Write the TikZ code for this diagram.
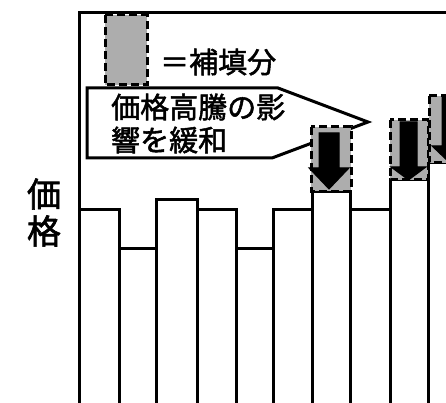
\documentclass[tikz,border=0pt]{standalone}
\usepackage{fontspec}
\newfontfamily\jp{Noto Sans CJK JP}[FakeBold=1.8]
\begin{document}
\begin{tikzpicture}[x=1pt,y=-1pt,
  heavy/.style={line width=3pt,line join=miter},
  bar/.style={heavy,fill=white},
  fillbox/.style={line width=3pt,dash pattern=on 8pt off 4pt,fill=black!32},
  arrowshape/.style={fill=black,draw=black,line width=1pt},
  txt/.style={inner sep=0pt,font=\jp\fontsize{29}{33}\selectfont},
  ylab/.style={inner sep=0pt,font=\jp\fontsize{34}{37}\selectfont}]
\useasboundingbox (0,0) rectangle (446,403);
\clip (0,0) rectangle (446,403);
\fill[white] (0,0) rectangle (446,403);
% frame
\draw[heavy] (79,410) -- (79,13) -- (450,13);
% callout
\draw[heavy,fill=white] (87,88) -- (278,88) -- (368,122) -- (272,158) -- (87,158) -- cycle;
\node[txt,anchor=west] (c1) at (111,107) {価格高騰の影};
\node[txt,anchor=west] (c2) at (111,140) {響を緩和};
% legend
\draw[fillbox] (105,15) rectangle (147,85);
\node[txt,anchor=west] (leg) at (160,62) {＝補填分};
% y label
\node[ylab] (y1) at (44,194) {価};
\node[ylab] (y2) at (44,231) {格};
% bars
\draw[bar] (79,410) -- (79,209) -- (119,209) -- (119,410);
\draw[bar] (119,410) -- (119,248) -- (156,248) -- (156,410);
\draw[bar] (156,410) -- (156,199) -- (197,199) -- (197,410);
\draw[bar] (197,410) -- (197,209) -- (236,209) -- (236,410);
\draw[bar] (236,410) -- (236,248) -- (273,248) -- (273,410);
\draw[bar] (273,410) -- (273,209) -- (312,209) -- (312,410);
\draw[bar] (312,410) -- (312,191) -- (350,191) -- (350,410);
\draw[bar] (350,410) -- (350,209) -- (390,209) -- (390,410);
\draw[bar] (390,410) -- (390,180) -- (428,180) -- (428,410);
\draw[bar] (428,410) -- (428,163) -- (480,163) -- (480,410);
% compensation boxes
\draw[fillbox] (311,127) rectangle (351,191);
\draw[arrowshape] (319,133) -- (339,133) -- (339,168) -- (349,168) -- (329,189) -- (309,168) -- (319,168) -- cycle;
\draw[fillbox] (390,120) rectangle (428,180);
\draw[arrowshape] (400,122) -- (417,122) -- (417,167) -- (426,167) -- (408.5,180) -- (391,167) -- (400,167) -- cycle;
\draw[fillbox] (429,96) rectangle (480,163);
\draw[arrowshape] (442,97) -- (462,97) -- (462,146) -- (472,146) -- (452,165) -- (432,146) -- (442,146) -- cycle;
\end{tikzpicture}
\end{document}
